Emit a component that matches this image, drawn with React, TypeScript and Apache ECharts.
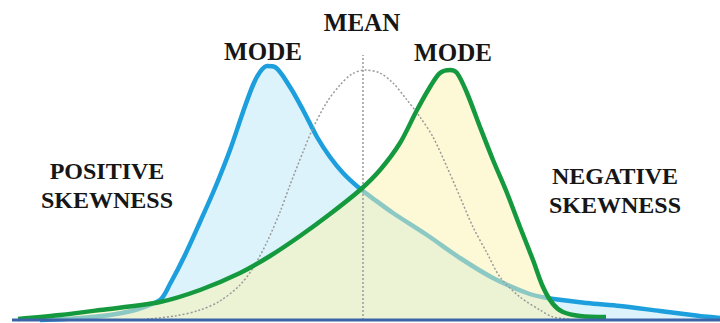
import React, { useEffect, useRef } from "react";
import * as echarts from "echarts";

// Positive-skew curve (blue): [x, height above baseline]
const blueX = [40, 80, 110, 135, 160, 170, 185, 200, 215, 230, 243, 253, 260, 267, 275, 290, 303, 317, 330, 343, 358, 375, 393, 427, 460, 493, 527, 547, 587, 620, 660, 700, 720];
const blueY = [0, 2, 5, 10, 20, 36, 65, 98, 132, 170, 208, 235, 248, 254, 253, 233, 210, 183, 163, 147, 133, 120, 107, 85, 62, 42, 27, 22, 17, 14, 9, 4, 2];

// Negative-skew curve (green)
const greenX = [18, 60, 100, 160, 200, 240, 270, 300, 330, 360, 380, 400, 417, 430, 440, 450, 457, 467, 480, 493, 507, 520, 533, 543, 553, 563, 580, 606];
const greenY = [1, 5, 10, 18, 30, 47, 64, 84, 106, 130, 150, 177, 210, 233, 247, 250, 247, 227, 193, 160, 127, 93, 60, 33, 16, 8, 4, 3];

// Symmetric reference curve (dotted)
const normX = [147, 175, 200, 220, 240, 253, 267, 280, 290, 303, 313, 327, 340, 352, 365, 380, 393, 407, 420, 433, 447, 460, 473, 487, 500, 520, 540, 553, 570];
const normY = [1, 4, 10, 19, 35, 52, 78, 108, 135, 168, 192, 218, 235, 246, 250, 247, 237, 220, 203, 183, 153, 123, 93, 67, 43, 23, 10, 3, 1];

// Mean line
const meanX = 363;
const meanTop = 265;

// Baseline
const baseX = [12, 720];

const labels = [
  { text: "MEAN", x: 362, y: 22, size: 25 },
  { text: "MODE", x: 263, y: 51, size: 25 },
  { text: "MODE", x: 453, y: 52, size: 25 },
  { text: "POSITIVE", x: 107, y: 171, size: 24 },
  { text: "SKEWNESS", x: 107, y: 200, size: 24 },
  { text: "NEGATIVE", x: 615, y: 176, size: 24 },
  { text: "SKEWNESS", x: 615, y: 205, size: 24 },
];

const zip = (xs: number[], ys: number[]) => xs.map((x, i) => [x, ys[i]]);

export default function App() {
  const ref = useRef<HTMLDivElement>(null);
  useEffect(() => {
    document.body.style.margin = "0";
    if (!ref.current) return;
    const chart = echarts.init(ref.current, undefined, { renderer: "svg" });
    const blue = zip(blueX, blueY);
    const green = zip(greenX, greenY);
    const norm = zip(normX, normY);
    chart.setOption({
      animation: false,
      backgroundColor: "#ffffff",
      grid: { left: 0, right: 0, top: 0, bottom: 0 },
      xAxis: { type: "value", min: 0, max: 720, show: false },
      yAxis: { type: "value", min: -3, max: 320, show: false },
      graphic: labels.map((l) => ({
        type: "text",
        x: l.x,
        y: l.y,
        z: 100,
        style: {
          text: l.text,
          fill: "#161616",
          font: `bold ${l.size}px "Liberation Serif", serif`,
          align: "center",
          verticalAlign: "middle",
          textAlign: "center",
          textVerticalAlign: "middle",
        },
      })),
      series: [
        {
          type: "line",
          data: blue,
          smooth: 0.3,
          symbol: "none",
          lineStyle: { color: "#1c9fdc", width: 4.5 },
          areaStyle: { color: "#ddf3fc", opacity: 1 },
          z: 1,
        },
        {
          type: "line",
          data: green,
          smooth: 0.3,
          symbol: "none",
          lineStyle: { width: 0, opacity: 0 },
          areaStyle: { color: "rgba(251,241,171,0.5)", opacity: 1 },
          z: 2,
        },
        {
          type: "line",
          data: norm,
          smooth: 0.3,
          symbol: "none",
          lineStyle: { color: "#9a9a9a", width: 1.5, type: [2, 2] },
          z: 3,
        },
        {
          type: "line",
          data: [
            [meanX, 0],
            [meanX, meanTop],
          ],
          symbol: "none",
          lineStyle: { color: "#9a9a9a", width: 1.5, type: [2, 2] },
          z: 3,
        },
        {
          type: "line",
          data: green,
          smooth: 0.3,
          symbol: "none",
          lineStyle: { color: "#14993e", width: 4.5 },
          z: 4,
        },
        {
          type: "line",
          data: baseX.map((x) => [x, 0]),
          symbol: "none",
          lineStyle: { color: "#3b64a8", width: 3 },
          z: 5,
        },
      ],
    });
    return () => chart.dispose();
  }, []);
  return (
    <div
      ref={ref}
      style={{ position: "fixed", left: 0, top: 0, width: 720, height: 323 }}
    />
  );
}
